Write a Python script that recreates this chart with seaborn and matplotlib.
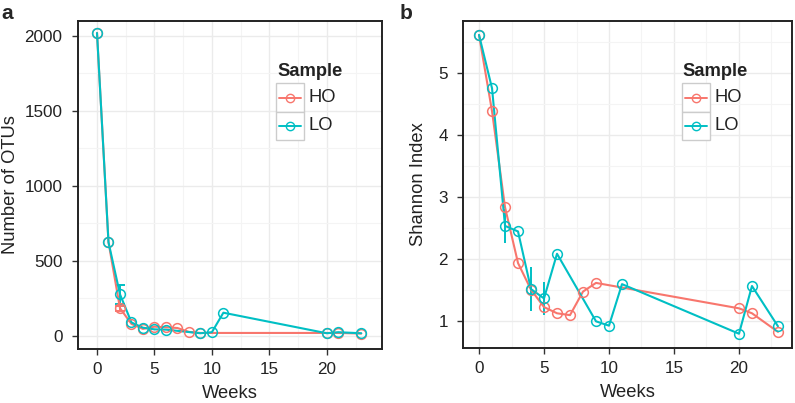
import numpy as np
import pandas as pd
import matplotlib
matplotlib.use("Agg")
import matplotlib.pyplot as plt
import seaborn as sns
from matplotlib.lines import Line2D
from matplotlib.patches import Rectangle
from matplotlib.ticker import MultipleLocator

# ---------------- data ----------------
ho_weeks = [0, 1, 2, 3, 4, 5, 6, 7, 8, 9, 20, 21, 23]
lo_weeks = [0, 1, 2, 3, 4, 5, 6, 9, 10, 11, 20, 21, 23]

ho_otus = [2020, 625, 185, 80, 47, 62, 58, 53, 27, 20, 20, 20, 16]
lo_otus = [2020, 625, 278, 90, 55, 44, 42, 18, 25, 155, 18, 25, 18]
ho_otus_err = [0, 0, 16, 0, 0, 0, 0, 0, 0, 0, 0, 0, 0]
lo_otus_err = [0, 0, 62, 0, 0, 0, 0, 0, 0, 0, 0, 0, 0]

ho_shannon = [5.61, 4.38, 2.83, 1.93, 1.50, 1.22, 1.12, 1.09, 1.47, 1.61, 1.20, 1.12, 0.82]
lo_shannon = [5.61, 4.75, 2.53, 2.44, 1.51, 1.36, 2.08, 0.99, 0.92, 1.59, 0.79, 1.56, 0.91]
ho_shannon_err = [0, 0, 0, 0, 0, 0, 0, 0, 0, 0, 0, 0, 0]
lo_shannon_err = [0, 0, 0.27, 0, 0.35, 0.26, 0, 0, 0, 0, 0, 0, 0]

samples = ["HO", "LO"]
colors = {"HO": "#F8766D", "LO": "#00BFC4"}

df = pd.DataFrame({
    "Weeks": ho_weeks + lo_weeks,
    "OTUs": ho_otus + lo_otus,
    "OTUs_err": ho_otus_err + lo_otus_err,
    "Shannon": ho_shannon + lo_shannon,
    "Shannon_err": ho_shannon_err + lo_shannon_err,
    "Sample": ["HO"] * len(ho_weeks) + ["LO"] * len(lo_weeks),
})

# ---------------- style ----------------
sns.set_theme(style="white")
plt.rcParams["font.family"] = ["Liberation Sans", "DejaVu Sans"]

W, H = 795, 403
fig = plt.figure(figsize=(W / 100, H / 100), dpi=100)
ax_a = fig.add_axes([77.7 / W, 1 - 349 / H, (381.7 - 77.7) / W, (349 - 20.7) / H])
ax_b = fig.add_axes([463.3 / W, 1 - 348.3 / H, (792 - 463.3) / W, (348.3 - 20.7) / H])

LAB = 13.2
TICK = 12.3


def draw(ax, ycol, ecol, cap):
    for s in samples:
        sub = df[df["Sample"] == s]
        m = sub[ecol] > 0
        if m.any():
            ax.errorbar(sub["Weeks"][m], sub[ycol][m], yerr=sub[ecol][m],
                        fmt="none", ecolor=colors[s], elinewidth=1.4,
                        capsize=cap, capthick=1.4, zorder=2)
    sns.lineplot(data=df, x="Weeks", y=ycol, hue="Sample", palette=colors,
                 hue_order=samples, estimator=None, sort=True, ax=ax,
                 linewidth=1.5, legend=False, zorder=3)
    for s in samples:
        sub = df[df["Sample"] == s]
        ax.plot(sub["Weeks"], sub[ycol], linestyle="none", marker="o",
                markersize=7, markerfacecolor="none",
                markeredgecolor=colors[s], markeredgewidth=1.1, zorder=4)
    ax.set_xlabel("Weeks", fontsize=LAB, labelpad=6, color="#222222")
    ax.xaxis.set_major_locator(MultipleLocator(5))
    ax.xaxis.set_minor_locator(MultipleLocator(2.5))
    ax.grid(which="major", color="#EBEBEB", linewidth=1.0)
    ax.grid(which="minor", color="#F4F4F4", linewidth=0.8)
    ax.set_axisbelow(True)
    for sp in ax.spines.values():
        sp.set_color("#222222")
        sp.set_linewidth(1.4)
    ax.tick_params(axis="both", which="major", length=4, width=1.0,
                   color="#333333", labelsize=TICK, labelcolor="#222222",
                   direction="out", bottom=True, left=True)
    ax.tick_params(axis="x", which="major", pad=5)
    ax.tick_params(axis="y", which="major", pad=7)
    ax.tick_params(axis="both", which="minor", length=0)


def legend_at(x0, x1, title_x):
    fig.text(title_x / W, 1 - 71 / H, "Sample", fontsize=LAB, fontweight="bold",
             ha="left", va="center", color="#222222")
    rows = [(83, 112), (112, 140)]
    for s, (y0, y1) in zip(samples, rows):
        fig.patches.append(Rectangle((x0 / W, 1 - y1 / H), (x1 - x0) / W,
                                     (y1 - y0) / H, transform=fig.transFigure,
                                     facecolor="white", edgecolor="#CCCCCC",
                                     linewidth=1.0, zorder=5))
        yc = 1 - (y0 + y1) / 2 / H
        fig.lines.append(Line2D([(x0 + 3) / W, (x1 - 3) / W], [yc, yc],
                                transform=fig.transFigure, color=colors[s],
                                linewidth=1.4, zorder=6))
        fig.lines.append(Line2D([(x0 + x1) / 2 / W], [yc], transform=fig.transFigure,
                                color=colors[s], marker="o", markersize=6,
                                markerfacecolor="none", markeredgewidth=1.0,
                                linestyle="none", zorder=7))
        fig.text((x1 + 5) / W, yc, s, fontsize=LAB, ha="left", va="center",
                 color="#222222", zorder=7)


draw(ax_a, "OTUs", "OTUs_err", 3.5)
ax_a.set_ylabel("Number of OTUs", fontsize=LAB, labelpad=4, color="#222222")
ax_a.set_xlim(-1.68, 24.78)
ax_a.set_ylim(-87, 2102)
ax_a.yaxis.set_major_locator(MultipleLocator(500))
ax_a.yaxis.set_minor_locator(MultipleLocator(250))

draw(ax_b, "Shannon", "Shannon_err", 0)
ax_b.set_ylabel("Shannon Index", fontsize=LAB, labelpad=8, color="#222222")
ax_b.set_xlim(-1.21, 24.08)
ax_b.set_ylim(0.555, 5.84)
ax_b.yaxis.set_major_locator(MultipleLocator(1))
ax_b.yaxis.set_minor_locator(MultipleLocator(0.5))

legend_at(276, 304, 277)
legend_at(681.7, 710, 682)

fig.text(0.002, 0.99, "a", fontsize=15, fontweight="bold", va="top", ha="left")
fig.text(0.503, 0.99, "b", fontsize=15, fontweight="bold", va="top", ha="left")

fig.savefig("out.png", dpi=100)
